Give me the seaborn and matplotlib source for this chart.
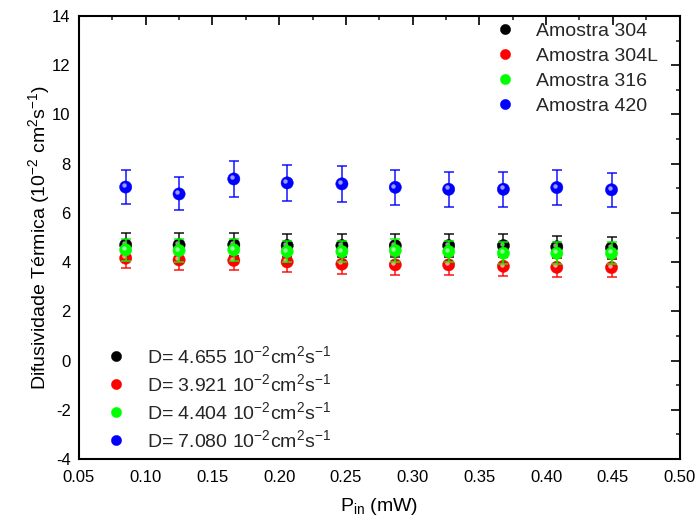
import numpy as np
import pandas as pd
import matplotlib
matplotlib.use("Agg")
import matplotlib.pyplot as plt
import matplotlib.transforms as mtrans
from matplotlib.lines import Line2D
import seaborn as sns

# ---------------- data ----------------
p_in = [0.085, 0.125, 0.166, 0.206, 0.247, 0.287, 0.327, 0.368, 0.408, 0.449]

d_304 = [4.70, 4.70, 4.71, 4.67, 4.67, 4.67, 4.67, 4.67, 4.62, 4.58]
e_304 = [0.48, 0.48, 0.47, 0.47, 0.47, 0.47, 0.47, 0.47, 0.46, 0.46]

d_304L = [4.16, 4.09, 4.07, 4.01, 3.92, 3.89, 3.89, 3.83, 3.79, 3.78]
e_304L = [0.41, 0.42, 0.41, 0.40, 0.40, 0.40, 0.40, 0.39, 0.38, 0.38]

d_316 = [4.50, 4.47, 4.50, 4.43, 4.43, 4.47, 4.43, 4.36, 4.36, 4.36]
e_316 = [0.45, 0.45, 0.45, 0.44, 0.44, 0.45, 0.44, 0.44, 0.44, 0.44]

d_420 = [7.05, 6.77, 7.38, 7.22, 7.18, 7.04, 6.96, 6.96, 7.03, 6.94]
e_420 = [0.70, 0.67, 0.73, 0.72, 0.72, 0.70, 0.70, 0.70, 0.70, 0.70]

series_names = ["Amostra 304", "Amostra 304L", "Amostra 316", "Amostra 420"]
mean_labels = [r"D= 4.655 10$^{-2}$cm$^{2}$s$^{-1}$",
               r"D= 3.921 10$^{-2}$cm$^{2}$s$^{-1}$",
               r"D= 4.404 10$^{-2}$cm$^{2}$s$^{-1}$",
               r"D= 7.080 10$^{-2}$cm$^{2}$s$^{-1}$"]
colors = ["#000000", "#ff0000", "#00ff00", "#0000ff"]

x_ticks = [0.05, 0.10, 0.15, 0.20, 0.25, 0.30, 0.35, 0.40, 0.45, 0.50]
y_ticks = [-4, -2, 0, 2, 4, 6, 8, 10, 12, 14]

values = [d_304, d_304L, d_316, d_420]
errors = [e_304, e_304L, e_316, e_420]

frames = []
for name, v, e in zip(series_names, values, errors):
    frames.append(pd.DataFrame({"P": p_in, "D": v, "err": e, "Amostra": name}))
df = pd.concat(frames, ignore_index=True)

# ---------------- style ----------------
sns.set_theme(style="white")
plt.rcParams["font.family"] = ["Liberation Sans", "DejaVu Sans"]
plt.rcParams["mathtext.default"] = "regular"
plt.rcParams["mathtext.fontset"] = "custom"
plt.rcParams["mathtext.rm"] = "Liberation Sans"
plt.rcParams["mathtext.it"] = "Liberation Sans"

fig = plt.figure(figsize=(6.97, 5.27), dpi=100)
ax = fig.add_axes([0.1133, 0.129, 0.8617, 0.8406])

palette = dict(zip(series_names, colors))
hl = mtrans.offset_copy(ax.transData, fig=fig, x=-1.8, y=1.8, units="dots")

for i, name in enumerate(series_names):
    sub = df[df["Amostra"] == name]
    ax.errorbar(sub["P"], sub["D"], yerr=sub["err"], fmt="none",
                ecolor=colors[i], elinewidth=1.2, capsize=3.6, capthick=1.2,
                alpha=0.85, zorder=2 + 2 * i)
    sns.scatterplot(data=sub, x="P", y="D", hue="Amostra", palette=palette,
                    s=78, edgecolor=colors[i], linewidth=0.3, legend=False,
                    ax=ax, zorder=3 + 2 * i)
    ax.plot(sub["P"], sub["D"], linestyle="none", marker="o", markersize=3.2,
            markerfacecolor="white", markeredgewidth=0, alpha=0.6,
            transform=hl, zorder=3 + 2 * i)

ax.set_xlim(0.05, 0.50)
ax.set_ylim(-4, 14)
ax.set_xticks(x_ticks)
ax.set_xticklabels([f"{t:.2f}" for t in x_ticks])
ax.set_yticks(y_ticks)
ax.set_yticklabels([str(t) for t in y_ticks])
ax.set_xticks(np.array(x_ticks[:-1]) + 0.025, minor=True)
ax.set_yticks(np.array(y_ticks[:-1]) + 1, minor=True)

ax.tick_params(which="major", direction="in", length=6.5, width=1.2,
               top=True, right=True, labelsize=12, colors="black", pad=6)
ax.tick_params(which="minor", direction="in", length=3.2, width=1.2,
               top=True, right=True)
ax.tick_params(axis="x", which="major", pad=8)
for sp in ax.spines.values():
    sp.set_color("black")
    sp.set_linewidth(1.5)

ax.set_xlabel(r"P$_{in}$ (mW)", fontsize=14, labelpad=8, color="black")
ax.set_ylabel(r"Difusividade Térmica (10$^{-2}$ cm$^{2}$s$^{-1}$)",
              fontsize=14, labelpad=0, color="black")

handles = [Line2D([], [], linestyle="none", marker="o", markersize=7.4,
                  markerfacecolor=c, markeredgecolor=c, markeredgewidth=0.3)
           for c in colors]

leg1 = ax.legend(handles, series_names, loc="upper left",
                 bbox_to_anchor=(0.693, 0.985), frameon=False, fontsize=14,
                 handlelength=1.0, handletextpad=1.1, borderpad=0,
                 borderaxespad=0, labelspacing=0.38)
ax.add_artist(leg1)
ax.legend(handles, mean_labels, loc="upper left",
          bbox_to_anchor=(0.045, 0.258), frameon=False, fontsize=14,
          handlelength=1.0, handletextpad=1.1, borderpad=0,
          borderaxespad=0, labelspacing=0.32)

fig.savefig("out.png", dpi=100)
